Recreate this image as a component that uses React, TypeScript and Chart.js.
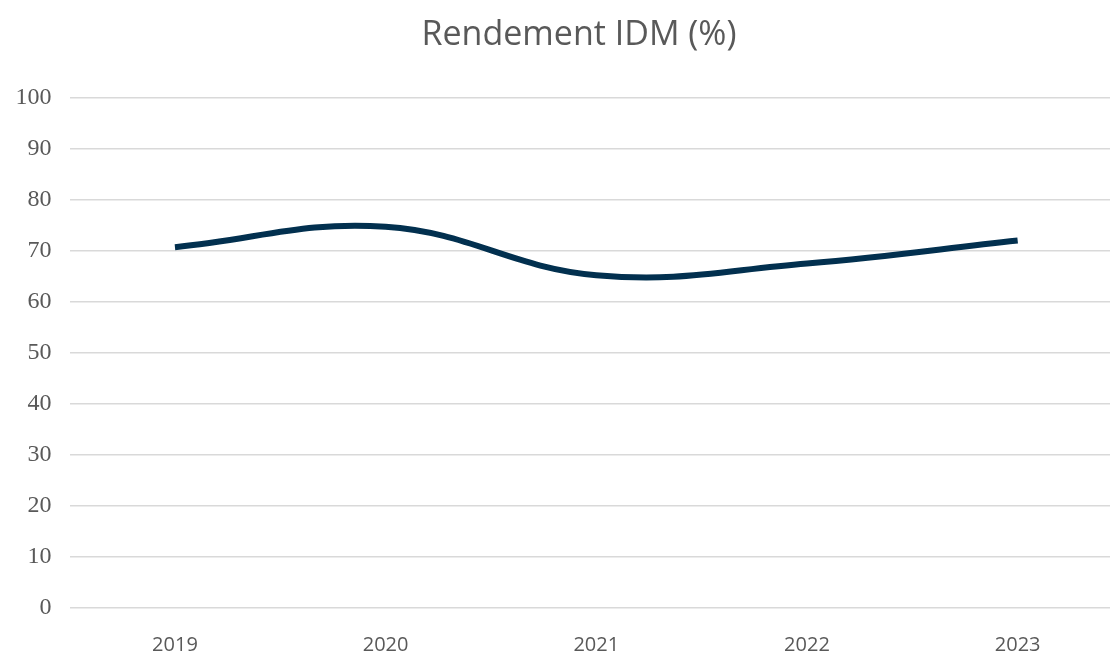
import React, { useEffect, useRef } from "react";
import { Chart, registerables } from "chart.js";

Chart.register(...registerables);

const categories = ["2019", "2020", "2021", "2022", "2023"];
const rendement = [70.7, 74.7, 65.2, 67.5, 72.0];
const yTicks = [0, 10, 20, 30, 40, 50, 60, 70, 80, 90, 100];
const titleText = "Rendement IDM (%)";

export default function App() {
  const ref = useRef<HTMLCanvasElement | null>(null);

  useEffect(() => {
    if (!ref.current) return;
    const chart = new Chart(ref.current, {
      type: "line",
      data: {
        labels: categories,
        datasets: [
          {
            data: rendement,
            borderColor: "#02304f",
            borderWidth: 6,
            pointRadius: 0,
            tension: 0.4,
            fill: false,
            yAxisID: "y",
          },
        ],
      },
      options: {
        responsive: false,
        animation: false,
        layout: { padding: 0 },
        plugins: {
          legend: { display: false },
          tooltip: { enabled: false },
          title: {
            display: true,
            text: titleText,
            color: "#595959",
            font: { family: "'Open Sans'", size: 34, weight: "normal" as any },
            padding: { top: 15, bottom: 42 },
          },
        },
        scales: {
          x: {
            offset: true,
            grid: { display: false, drawTicks: false },
            border: { display: false },
            ticks: {
              color: "#595959",
              padding: 26,
              font: { family: "'Open Sans'", size: 20 },
            },
            afterFit: (scale: any) => {
              scale.height = 47.5;
            },
          },
          y: {
            min: 0,
            max: 100,
            afterBuildTicks: (scale: any) => {
              scale.ticks = yTicks.map((v) => ({ value: v }));
            },
            grid: { color: "#d9d9d9", lineWidth: 1.5, drawTicks: false },
            border: { display: false },
            ticks: {
              color: "#595959",
              padding: 18,
              font: { family: "'Liberation Serif'", size: 24 },
            },
            afterFit: (scale: any) => {
              scale.width = 69.6;
            },
          },
          yRight: {
            type: "linear",
            position: "right",
            min: 0,
            max: 100,
            grid: { display: false, drawTicks: false },
            border: { display: false },
            ticks: { display: false },
            afterFit: (scale: any) => {
              scale.width = 35;
            },
          },
        },
      },
    });
    return () => chart.destroy();
  }, []);

  return (
    <div
      style={{
        position: "fixed",
        left: 0,
        top: 0,
        width: 1110,
        height: 655,
        overflow: "hidden",
        background: "#ffffff",
      }}
    >
      <canvas
        ref={ref}
        width={1158}
        height={655}
        style={{ width: 1158, height: 655, display: "block" }}
      />
    </div>
  );
}
